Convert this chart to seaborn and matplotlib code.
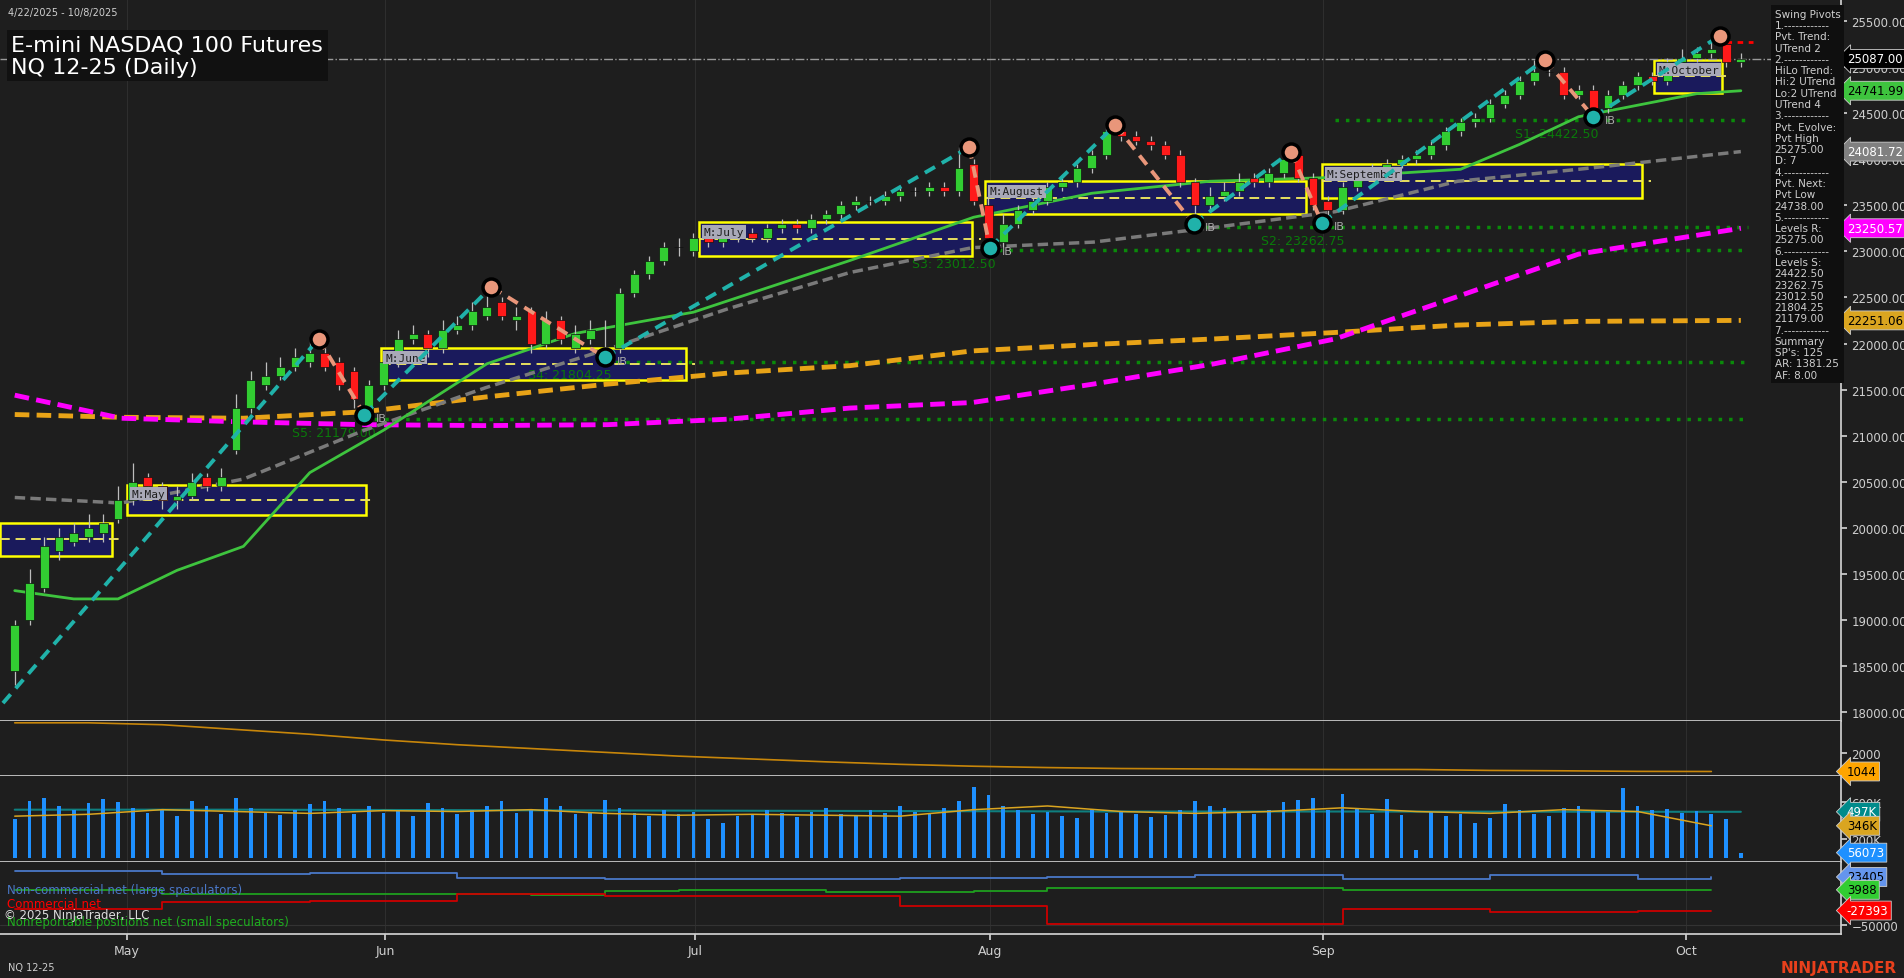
import numpy as np
import pandas as pd
import seaborn as sns
import matplotlib
matplotlib.use("Agg")
import matplotlib.pyplot as plt
from matplotlib.patches import Rectangle

# ---- price data (bar index based) ----
opens = [18450,19000,19350,19750,19850,19900,19950,20100,20300,20550,
         20450,20300,20350,20550,20450,20850,21300,21550,21650,21750,
         21800,21900,21800,21700,21250,21550,21800,22050,22100,21950,
         22150,22200,22300,22450,22250,22350,22000,22250,21950,22050,
         21800,21950,22550,22750,22900,23050,23000,23150,23100,23150,
         23200,23150,23250,23300,23250,23350,23400,23500,23550,23550,
         23600,23650,23650,23700,23650,23950,23500,23100,23300,23450,
         23550,23700,23750,23900,24050,24300,24250,24200,24150,24050,
         23750,23500,23600,23650,23800,23750,23850,24050,23800,23550,
         23450,23700,23850,23900,23950,24000,24050,24150,24300,24400,
         24450,24600,24700,24850,24950,24950,24700,24750,24550,24700,
         24800,24900,24850,25050,25100,25150,25250,25050]
closes = [18950,19400,19800,19900,19950,20000,20050,20300,20500,20450,
          20300,20350,20500,20450,20550,21300,21600,21650,21750,21850,
          21900,21750,21550,21400,21550,21800,22050,22100,21950,22150,
          22200,22350,22400,22300,22300,22000,22250,22050,22100,22150,
          21900,22550,22750,22900,23050,23050,23150,23100,23150,23200,
          23150,23250,23300,23250,23350,23400,23500,23550,23550,23600,
          23650,23650,23700,23650,23900,23550,23150,23300,23450,23550,
          23700,23750,23900,24050,24300,24250,24200,24150,24050,23750,
          23500,23600,23650,23750,23750,23850,24000,23800,23500,23450,
          23700,23850,23900,23950,24000,24050,24150,24300,24400,24450,
          24600,24700,24850,24950,24950,24700,24750,24550,24700,24800,
          24900,24850,25050,25100,25150,25200,25050,25087]
highs = [19000,19550,19900,20000,20050,20150,20150,20450,20700,20600,
         20500,20450,20600,20600,20650,21450,21700,21800,21850,21950,
         22050,21950,21850,21750,21600,21850,22150,22200,22150,22250,
         22300,22450,22615,22500,22400,22400,22350,22300,22200,22250,
         22250,22600,22800,22950,23100,23150,23200,23200,23250,23250,
         23250,23300,23350,23350,23400,23450,23550,23600,23600,23650,
         23700,23700,23750,23750,24130,24000,23600,23400,23500,23600,
         23750,23800,23950,24100,24370,24350,24300,24250,24200,24100,
         23800,23700,23750,23850,23850,23900,24080,24100,23850,23600,
         23750,23900,23950,24000,24050,24100,24200,24350,24450,24500,
         24650,24750,24900,25080,25050,25000,24800,24800,24750,24850,
         24950,24950,25100,25200,25220,25340,25250,25150]
lows = [18300,18950,19300,19650,19800,19850,19850,20050,20250,20400,
        20200,20200,20300,20400,20400,20800,21250,21500,21600,21700,
        21750,21700,21500,21300,21230,21500,21750,22000,21850,21900,
        22100,22150,22250,22250,22150,21900,21950,22000,21900,22000,
        21850,21900,22500,22700,22850,22950,22950,23050,23050,23100,
        23100,23100,23200,23200,23200,23300,23350,23450,23500,23500,
        23550,23600,23600,23600,23600,23500,23040,23050,23250,23400,
        23500,23650,23700,23850,24000,24200,24150,24100,24000,23700,
        23300,23450,23550,23600,23700,23700,23800,23750,23450,23310,
        23400,23650,23800,23850,23900,23950,24000,24100,24250,24350,
        24400,24550,24650,24800,24900,24650,24650,24460,24500,24650,
        24750,24800,24800,25000,25050,25100,25000,25000]
volume_k = [420,610,650,560,520,590,640,600,540,480,
            520,450,610,560,470,650,540,500,460,520,
            580,610,540,470,560,480,520,450,590,540,
            470,520,560,610,480,520,650,560,470,500,
            620,540,480,450,520,470,500,420,380,450,
            470,520,480,440,500,540,470,450,520,480,
            560,500,470,540,610,760,680,560,520,470,
            500,450,430,520,480,500,470,440,460,520,
            610,560,540,500,470,520,600,620,650,520,
            690,530,470,640,460,80,500,450,470,380,
            430,580,520,470,450,540,560,520,500,750,
            560,520,530,480,510,470,420,56]

month_pos = [7.6, 25.1, 46.1, 66.1, 88.7, 113.3]
month_lbl = ["May", "Jun", "Jul", "Aug", "Sep", "Oct"]

# moving averages sampled at bar indices
green_idx = [0, 4, 7, 11, 15.5, 20, 25, 32, 38, 46, 56.6, 65, 73, 81, 89, 98, 102, 106, 114, 117]
ma_green = [19320, 19230, 19230, 19540, 19800, 20600, 21060, 21780, 22110, 22340, 22900, 23370,
            23630, 23760, 23800, 23890, 24160, 24460, 24710, 24742]
slow_idx = [0, 7.2, 15.5, 23.7, 31.9, 40.2, 48.4, 56.6, 64.9, 73.1, 81.3, 89.5, 97.8, 106, 117]
ma_gray = [20330, 20270, 20530, 21060, 21520, 21940, 22380, 22770, 23040, 23100, 23260, 23430,
           23760, 23890, 24082]
ma_magenta = [21440, 21190, 21150, 21120, 21110, 21120, 21180, 21300, 21360, 21560, 21780, 22050,
              22510, 22970, 23250]
ma_orange = [21230, 21200, 21190, 21260, 21420, 21560, 21680, 21760, 21920, 21990, 22050, 22120,
             22200, 22240, 22251]

piv_x = [-0.8, 20.6, 23.7, 32.3, 40.0, 64.7, 66.1, 74.6, 79.9, 86.5, 88.6, 103.7, 107.0, 115.6]
piv_y = [18100, 22050, 21230, 22615, 21850, 24130, 23040, 24370, 23300, 24080, 23310, 25080, 24460, 25340]

box_lbl = ["", "M:May", "M:June", "M:July", "M:August", "M:September", "M:October"]
box_x0 = [-1, 7.6, 24.8, 46.4, 65.8, 88.6, 111.1]
box_x1 = [6.6, 23.8, 45.5, 64.9, 87.5, 110.3, 115.7]
box_lo = [19700, 20140, 21600, 22950, 23400, 23580, 24720]
box_hi = [20050, 20470, 21950, 23320, 23760, 23950, 25080]

sup_lvl = [24422.50, 23262.75, 23012.50, 21804.25, 21179.00]
sup_start = [89.5, 80, 66, 40, 23.7]
sup_lbl = ["S1: 24422.50", "S2: 23262.75", "S3: 23012.50", "S4: 21804.25", "S5: 21179.00"]
sup_lbl_x = [101.7, 84.5, 60.8, 34.8, 18.8]

osc_idx = [0, 5, 10, 15, 20, 25, 30, 35, 40, 45, 50, 55, 60, 65, 70, 75, 80, 85, 90, 95, 100, 105, 110, 115]
osc_val = [3600, 3600, 3500, 3250, 3000, 2700, 2450, 2250, 2050, 1850, 1700, 1550, 1420, 1320,
           1250, 1200, 1180, 1160, 1150, 1150, 1100, 1080, 1050, 1044]
vavg_val = [450, 470, 520, 500, 480, 510, 500, 520, 480, 460, 470, 460, 450, 520, 560, 500, 480,
            500, 540, 500, 480, 520, 500, 346]
vteal_val = [520, 520, 515, 510, 505, 500, 500, 498, 497]
vteal_idx = [0, 15, 30, 45, 60, 75, 90, 105, 117]

cot_idx = [0, 5, 10, 15, 20, 25, 30, 35, 40, 45, 50, 55, 60, 65, 70, 75, 80, 85, 90, 95, 100, 105, 110, 115]
cot_noncomm = [32000, 32000, 28000, 28000, 30000, 30000, 22000, 22000, 20000, 21000, 20000, 21000,
               22000, 22000, 24000, 24000, 26000, 27000, 20000, 20000, 27000, 27000, 21000, 23405]
cot_comm = [-25000, -25000, -15000, -15000, -13000, -13000, -2000, -2000, -5000, -6000, -6000, -6000,
            -20000, -20000, -48000, -48000, -48000, -48000, -25000, -25000, -30000, -30000, -27393, -27393]
cot_small = [3000, 3000, -2000, -2000, -2000, -2000, -2000, -4000, 2000, 3000, 3000, 1000,
             1000, 2000, 6000, 6000, 6000, 6000, 4000, 4000, 4000, 4000, 3988, 3988]

swing_lines = ["Swing Pivots", "1.------------", "Pvt. Trend:", "UTrend 2", "2.------------",
               "HiLo Trend:", "Hi:2 UTrend", "Lo:2 UTrend", "UTrend 4", "3.------------",
               "Pvt. Evolve:", "Pvt High", "25275.00", "D: 7", "4.------------", "Pvt. Next:",
               "Pvt Low", "24738.00", "5.------------", "Levels R:", "25275.00", "6.------------",
               "Levels S:", "24422.50", "23262.75", "23012.50", "21804.25", "21179.00",
               "7.------------", "Summary", "SP's: 125", "AR: 1381.25", "AF: 8.00"]

BG = "#1e1e1e"
TXT = "#cfcfcf"
sns.set_theme(style="dark", rc={"axes.facecolor": BG, "figure.facecolor": BG,
                                "text.color": TXT, "xtick.color": TXT, "ytick.color": TXT,
                                "axes.edgecolor": "#cfcfcf"})
plt.rcParams["font.family"] = ["DejaVu Sans"]

fig = plt.figure(figsize=(19.04, 9.79), dpi=100)
W = 0.967
ax = fig.add_axes([0, 0.263, W, 0.737])
ax2 = fig.add_axes([0, 0.206, W, 0.057], sharex=ax)
ax3 = fig.add_axes([0, 0.118, W, 0.088], sharex=ax)
ax4 = fig.add_axes([0, 0.045, W, 0.073], sharex=ax)
XMIN, XMAX = -1.0, 123.8

for a in (ax, ax2, ax3, ax4):
    a.set_facecolor(BG)
    a.yaxis.tick_right()
    a.tick_params(axis="y", labelsize=8.5, length=4, color=TXT, right=True)
    a.tick_params(axis="x", length=4, color=TXT, bottom=True)
    for s in ("left", "top"):
        a.spines[s].set_visible(False)
    a.spines["bottom"].set_color("#cfcfcf")
    a.spines["right"].set_color("#cfcfcf")
    for m in month_pos:
        a.axvline(m, color="#2e2e2e", lw=0.8, zorder=0)
    a.set_xlim(XMIN, XMAX)
for a in (ax, ax2, ax3):
    plt.setp(a.get_xticklabels(), visible=False)
    a.tick_params(axis="x", length=0)
ax4.set_xticks(month_pos)
ax4.set_xticklabels(month_lbl, fontsize=9)

# ---- price panel ----
ax.set_ylim(17911, 25737)
ax.set_yticks(np.arange(18000, 25501, 500))
ax.set_yticklabels([f"{v:.2f}" for v in np.arange(18000, 25501, 500)])

# monthly value boxes
for lbl, x0, x1, lo, hi in zip(box_lbl, box_x0, box_x1, box_lo, box_hi):
    ax.add_patch(Rectangle((x0, lo), x1 - x0, hi - lo, facecolor="#1a1a5c", edgecolor="#ffff00",
                           lw=1.8, zorder=1))
    ax.plot([x0, x1 + 0.6], [(lo + hi) / 2] * 2, color="#e8e060", ls=(0, (5, 3)), lw=1.4, zorder=2)
    if lbl:
        ax.text(x0 + 0.3, hi - (hi - lo) * 0.3, lbl, fontsize=8, color="#1e1e1e", va="center",
                family="DejaVu Sans Mono",
                bbox=dict(boxstyle="square,pad=0.15", fc="#a9a9b8", ec="none"), zorder=6)

# support levels
for lvl, x0, lbl, lx in zip(sup_lvl, sup_start, sup_lbl, sup_lbl_x):
    ax.plot([x0, 117.5], [lvl, lvl], color="#0a8a0a", ls=(0, (1, 2)), lw=2.5, zorder=1)
    ax.text(lx, lvl - 180, lbl, color="#0a7a0a", fontsize=9, zorder=2)

# moving averages
sns.lineplot(x=slow_idx, y=ma_orange, ax=ax, color="#e8a317", lw=3.5, ls=(0, (3, 1.5)), zorder=2)
sns.lineplot(x=slow_idx, y=ma_magenta, ax=ax, color="#ff00ff", lw=3.5, ls=(0, (3, 1.5)), zorder=2)
sns.lineplot(x=slow_idx, y=ma_gray, ax=ax, color="#7a7a7a", lw=2.5, ls=(0, (3, 1.5)), zorder=2)
sns.lineplot(x=green_idx, y=ma_green, ax=ax, color="#3ec43e", lw=2, zorder=3)

# candles
idx = np.arange(len(closes))
o = np.array(opens); c = np.array(closes)
up = c >= o
ax.vlines(idx, lows, highs, color="#bdbdbd", lw=0.9, zorder=4)
ax.bar(idx[up], (c - o)[up], bottom=o[up], width=0.6, color="#32cd32", edgecolor="#111111",
       lw=0.5, zorder=5)
ax.bar(idx[~up], (o - c)[~up], bottom=c[~up], width=0.6, color="#ff1a1a", edgecolor="#111111",
       lw=0.5, zorder=5)

# swing pivots
for i in range(len(piv_x) - 1):
    col = "#20b2aa" if piv_y[i + 1] > piv_y[i] else "#e9967a"
    ax.plot(piv_x[i:i + 2], piv_y[i:i + 2], color=col, lw=2.8, ls=(0, (3, 2)), zorder=6)
for i, (px, py) in enumerate(zip(piv_x[1:], piv_y[1:])):
    hi = py > piv_y[i]
    ax.scatter(px, py, s=150, color="#e9967a" if hi else "#20b2aa", edgecolor="black", lw=2.5, zorder=7)
    if not hi:
        ax.text(px + 0.8, py - 40, "IB", color="#aaaaaa", fontsize=8, va="center", zorder=7)

# current price / resistance
ax.axhline(25087, color="#9a9a9a", ls="-.", lw=1, zorder=1)
ax.plot([116, 117.8], [25275, 25275], color="red", ls=(0, (2, 2)), lw=2, zorder=6)

# right-side price tags
tags = [(25087, "25087.00", "black", "white"), (24741.99, "24741.99", "#3ec43e", "black"),
        (24081.72, "24081.72", "#808080", "white"), (23250.57, "23250.57", "#ff00ff", "white"),
        (22251.06, "22251.06", "#daa520", "black")]
for val, lbl, fc, tc in tags:
    ax.annotate(lbl, xy=(1.003, val), xycoords=("axes fraction", "data"), fontsize=8.5, color=tc,
                va="center", ha="left", annotation_clip=False, zorder=10,
                bbox=dict(boxstyle="larrow,pad=0.25", fc=fc, ec="#cfcfcf", lw=0.6))

# title
fig.text(0.004, 0.992, "4/22/2025 - 10/8/2025", fontsize=7, color=TXT, va="top")
fig.text(0.006, 0.964, "E-mini NASDAQ 100 Futures\nNQ 12-25 (Daily)", fontsize=16, color="white",
         va="top", linespacing=1.15,
         bbox=dict(boxstyle="square,pad=0.2", fc="#111111", ec="none"))

# swing pivots box
fig.text(0.932, 0.990, "\n".join(swing_lines), fontsize=7.5, color=TXT, va="top", linespacing=1.16,
         bbox=dict(boxstyle="square,pad=0.35", fc="#0f0f0f", ec="none"))

# ---- oscillator panel ----
sns.lineplot(x=osc_idx, y=osc_val, ax=ax2, color="#c8860a", lw=1.2)
ax2.set_ylim(790, 3720)
ax2.set_yticks([2000])
ax2.annotate("1044", xy=(1.003, 1044), xycoords=("axes fraction", "data"), fontsize=8.5, color="black",
             va="center", annotation_clip=False,
             bbox=dict(boxstyle="larrow,pad=0.25", fc="#ffa500", ec="#cfcfcf", lw=0.6))

# ---- volume panel ----
ax3.bar(idx, volume_k, width=0.25, color="#1e90ff", edgecolor="none", lw=0, zorder=3)
sns.lineplot(x=vteal_idx, y=vteal_val, ax=ax3, color="#0f7f7f", lw=1.5, zorder=2)
sns.lineplot(x=osc_idx, y=vavg_val, ax=ax3, color="#daa520", lw=1.1, zorder=4)
ax3.set_ylim(-50, 880)
ax3.set_yticks([200, 600])
ax3.set_yticklabels(["200K", "600K"])
for val, lbl, fc, tc in [(497, "497K", "#008b8b", "white"), (346, "346K", "#daa520", "black"),
                         (56, "56073", "#1e90ff", "white")]:
    ax3.annotate(lbl, xy=(1.003, val), xycoords=("axes fraction", "data"), fontsize=8.5, color=tc,
                 va="center", annotation_clip=False,
                 bbox=dict(boxstyle="larrow,pad=0.25", fc=fc, ec="#cfcfcf", lw=0.6))

# ---- COT panel ----
sns.lineplot(x=cot_idx, y=cot_noncomm, ax=ax4, color="#4a78c8", lw=1.3, drawstyle="steps-post")
sns.lineplot(x=cot_idx, y=cot_small, ax=ax4, color="#1f9f1f", lw=1.3, drawstyle="steps-post")
sns.lineplot(x=cot_idx, y=cot_comm, ax=ax4, color="#cc0000", lw=1.3, drawstyle="steps-post")
ax4.axhline(-50000, color="#333333", lw=0.8, zorder=0)
ax4.set_ylim(-62850, 45400)
ax4.set_yticks([-50000])
for val, lbl, fc, tc in [(23405, "23405", "#6495ed", "black"), (3988, "3988", "#32cd32", "black"),
                         (-27393, "-27393", "#ff0000", "white")]:
    ax4.annotate(lbl, xy=(1.003, val), xycoords=("axes fraction", "data"), fontsize=8.5, color=tc,
                 va="center", annotation_clip=False,
                 bbox=dict(boxstyle="larrow,pad=0.25", fc=fc, ec="#cfcfcf", lw=0.6))
ax4.text(0.004, 0.57, "Non-commercial net (large speculators)", transform=ax4.transAxes,
         color="#4a78c8", fontsize=8.5)
ax4.text(0.004, 0.38, "Commercial net", transform=ax4.transAxes, color="#ff0000", fontsize=8.5)
ax4.text(0.004, 0.12, "Nonreportable positions net (small speculators)", transform=ax4.transAxes,
         color="#1faf1f", fontsize=8.5)
ax4.text(0.002, 0.22, "© 2025 NinjaTrader, LLC", transform=ax4.transAxes, color="#dddddd", fontsize=8.5)

fig.text(0.004, 0.008, "NQ 12-25", fontsize=7, color=TXT)
fig.text(0.996, 0.006, "NINJATRADER", fontsize=11, color="#e8401c", ha="right", weight="bold")

fig.savefig("out.png", dpi=100, facecolor=BG)
